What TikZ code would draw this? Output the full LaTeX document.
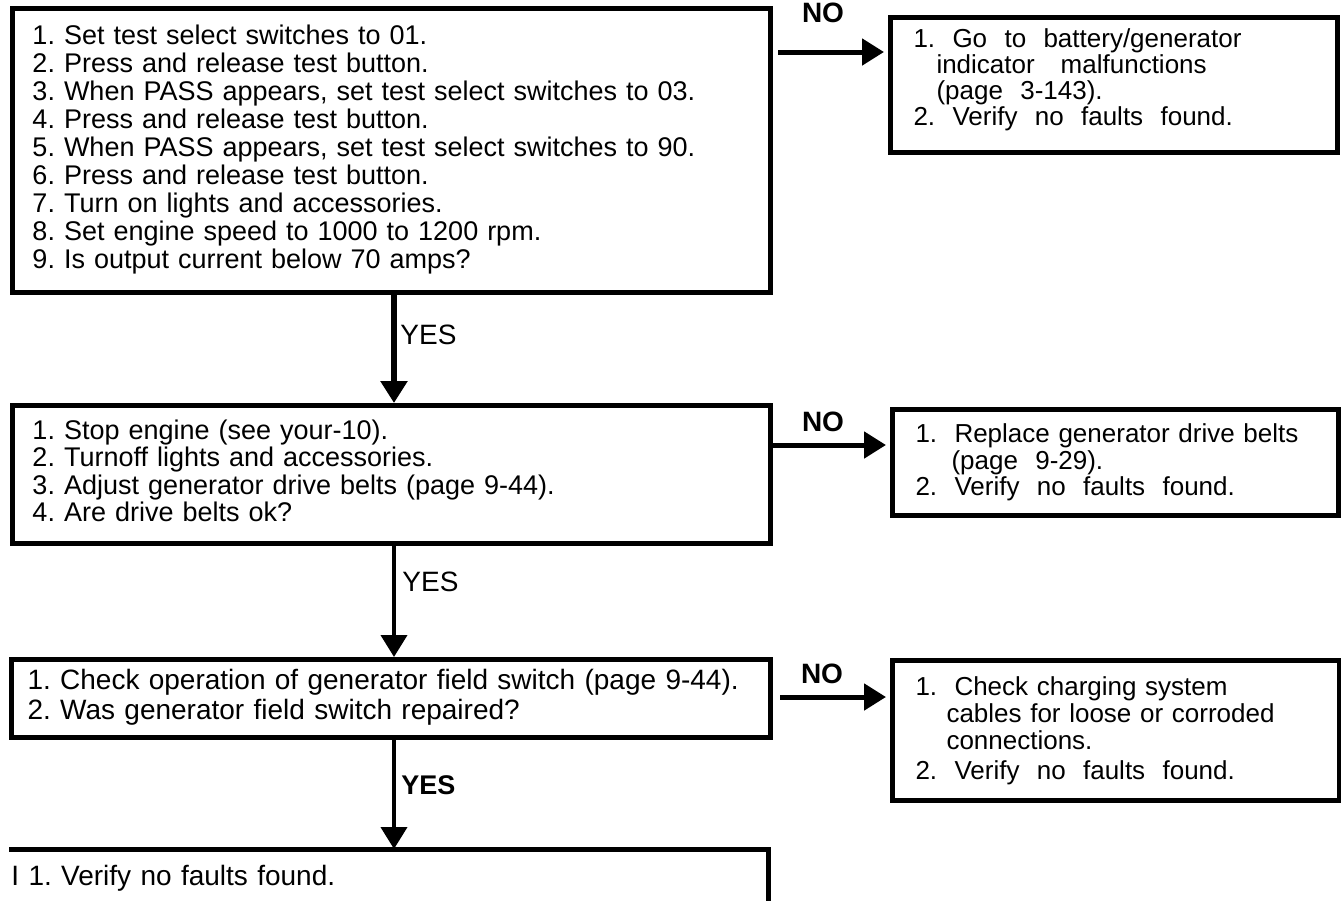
\documentclass[tikz,border=0pt]{standalone}
\usepackage{fontspec}
\setmainfont{Liberation Sans}
\usetikzlibrary{arrows.meta,calc}
\frenchspacing
\begin{document}
\begin{tikzpicture}[x=0.5pt,y=-0.5pt,
  box/.style={draw, line width=2.5pt, rectangle, anchor=north west, align=left, inner ysep=2pt},
  arr/.style={line width=2.5pt, -{Triangle[length=11pt,width=13pt]}},
  thickarr/.style={line width=3pt, -{Triangle[length=11pt,width=13pt]}},
  thinarr/.style={line width=2pt, -{Triangle[length=11pt,width=13pt]}},
  nolab/.style={font=\fontsize{14pt}{14pt}\selectfont\bfseries, inner sep=0pt},
  yeslab/.style={font=\fontsize{14pt}{14pt}\selectfont, inner sep=0pt, anchor=west},
  yesbold/.style={font=\fontsize{13.5pt}{14pt}\selectfont\bfseries, inner sep=0pt, anchor=west},
]
\useasboundingbox (0,0) rectangle (1341,901);

% left column boxes
\node[box, minimum width=379pt, minimum height=142pt, text width=359pt, inner xsep=10pt,
      font=\fontsize{13.5pt}{14pt}\selectfont] (b1) at (10,6)
  {1. Set test select switches to 01.\\
   2. Press and release test button.\\
   3. When PASS appears, set test select switches to 03.\\
   4. Press and release test button.\\
   5. When PASS appears, set test select switches to 90.\\
   6. Press and release test button.\\
   7. Turn on lights and accessories.\\
   8. Set engine speed to 1000 to 1200 rpm.\\
   9. Is output current below 70 amps?\\[-10pt]\mbox{}};

\node[box, minimum width=379pt, minimum height=69pt, text width=359pt, inner xsep=10pt,
      font=\fontsize{13.5pt}{13.75pt}\selectfont] (b2) at (10,403)
  {1. Stop\ engine\ (see\ your-10).\\
   2. Turnoff\ lights\ and\ accessories.\\
   3. Adjust\ generator\ drive\ belts\ (page\ 9-44).\\
   4. Are drive belts ok?\\[-9.75pt]\mbox{}};

\node[box, minimum width=379.5pt, minimum height=39pt, text width=363pt, inner xsep=8.25pt,
      font=\fontsize{14pt}{15pt}\selectfont] (b3) at (8.5,657)
  {1. Check operation of generator field switch (page 9-44).\\
   2. Was generator field switch repaired?\\[-11pt]\mbox{}};

\node[anchor=north west, minimum width=379.5pt, minimum height=29pt, text width=377.5pt,
      inner xsep=1pt, inner ysep=0pt, align=left,
      font=\fontsize{14pt}{14pt}\selectfont] (b4) at (9,849)
  {I\ 1. Verify no faults found.};
\draw[line width=2.5pt] (b4.north west) -- (b4.north east) -- ([yshift=-40pt]b4.south east);

% right column boxes
\node[box, minimum width=223.5pt, minimum height=67.5pt, text width=200.5pt, inner xsep=11.5pt,
      font=\fontsize{13pt}{13pt}\selectfont] (tr1) at (888,15)
  {1.\ \ Go\ \ to\ \ battery/generator\\
   \hspace*{11.5pt}indicator\ \ \ malfunctions\\
   \hspace*{11.5pt}(page\ \ 3-143).\\
   2.\ \ Verify\ \ no\ \ faults\ \ found.\\[-5pt]\mbox{}};

\node[box, minimum width=223pt, minimum height=53pt, text width=200pt, inner xsep=11.5pt,
      font=\fontsize{13pt}{13.25pt}\selectfont] (tr2) at (890,407)
  {1.\ \ Replace generator drive belts\\
   \hspace*{18pt}(page\ \ 9-29).\\
   2.\ \ Verify\ \ no\ \ faults\ \ found.};

\node[box, minimum width=223.5pt, minimum height=70pt, text width=200.5pt, inner xsep=11.5pt,
      font=\fontsize{13pt}{13.5pt}\selectfont] (tr3) at (890,658)
  {1.\ \ Check charging system\\
   \hspace*{15.5pt}cables for loose or corroded\\
   \hspace*{15.5pt}connections.\\[1.5pt]
   2.\ \ Verify\ \ no\ \ faults\ \ found.};

% vertical YES connectors
\coordinate (ax) at (394,0);
\draw[thickarr] (b1.south -| ax) -- (b2.north -| ax);
\draw[thinarr] (b2.south -| ax) -- (b3.north -| ax);
\draw[thinarr] (b3.south -| ax) -- (b4.north -| ax);

\node[yeslab] (y1) at (400,335) {YES};
\node[yeslab] (y2) at (402,582) {YES};
\node[yesbold] (y3) at (401,785) {YES};

% horizontal NO connectors
\coordinate (n1) at (778,52);
\draw[arr, shorten >=2pt] (n1) -- (n1 -| tr1.west);
\coordinate (n2) at (0,445);
\draw[arr, shorten >=2pt] (b2.east |- n2) -- (tr2.west |- n2);
\coordinate (n3) at (780,697);
\draw[arr, shorten >=2pt] (n3) -- (n3 -| tr3.west);

\node[nolab] (no1) at (823,13) {NO};
\node[nolab] (no2) at (823,422) {NO};
\node[nolab] (no3) at (822,674) {NO};
\end{tikzpicture}
\end{document}
